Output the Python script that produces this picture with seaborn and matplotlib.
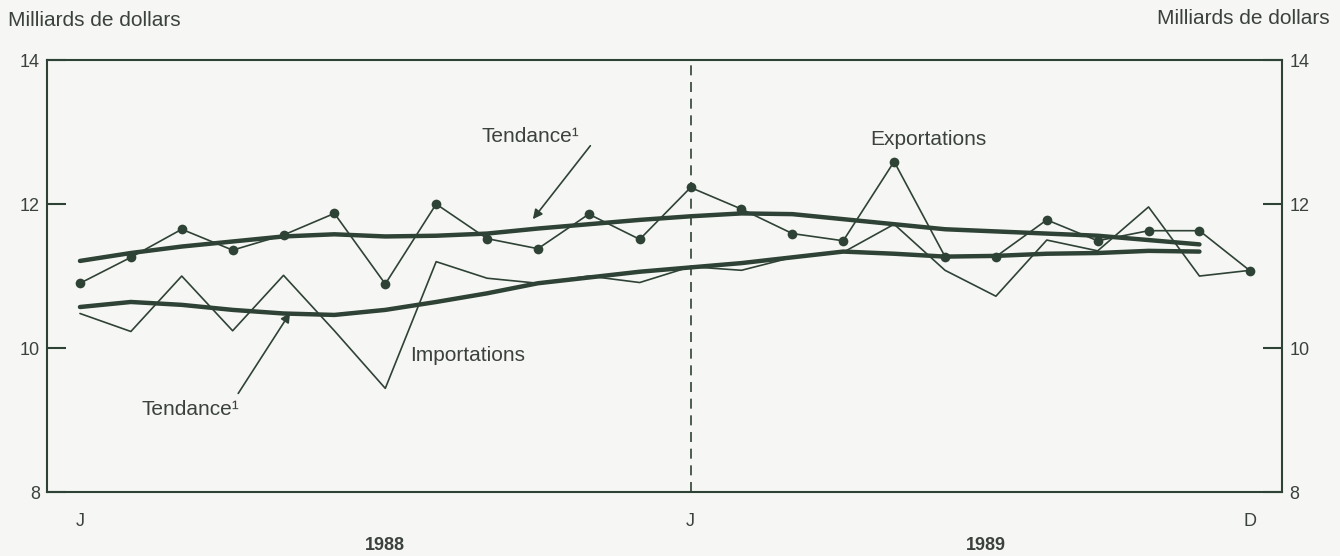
# Commerce extérieur : exportations et importations mensuelles (1988-1989)
# avec les courbes de tendance correspondantes.

import matplotlib
matplotlib.use("Agg")
import matplotlib.pyplot as plt
import pandas as pd
import seaborn as sns

# --- Données (milliards de dollars), janvier 1988 -> décembre 1989
mois = list(range(24))
exportations = [10.90, 11.26, 11.65, 11.36, 11.57, 11.87, 10.89, 12.00, 11.52, 11.38, 11.86, 11.51,
                12.23, 11.93, 11.59, 11.49, 12.59, 11.27, 11.27, 11.78, 11.49, 11.63, 11.63, 11.07]
importations = [10.48, 10.23, 11.00, 10.24, 11.01, 10.24, 9.44, 11.20, 10.97, 10.90, 11.00, 10.91,
                11.13, 11.08, 11.26, 11.33, 11.72, 11.08, 10.72, 11.50, 11.35, 11.96, 11.00, 11.08]
# tendances : janvier 1988 -> novembre 1989
mois_tendance = list(range(23))
tendance_exp = [11.21, 11.32, 11.41, 11.48, 11.55, 11.58, 11.55, 11.56, 11.59, 11.66, 11.72, 11.78,
                11.83, 11.87, 11.86, 11.79, 11.72, 11.65, 11.62, 11.59, 11.56, 11.50, 11.44]
tendance_imp = [10.57, 10.64, 10.60, 10.53, 10.48, 10.46, 10.53, 10.64, 10.76, 10.90, 10.98, 11.06,
                11.12, 11.18, 11.26, 11.34, 11.31, 11.27, 11.28, 11.31, 11.32, 11.35, 11.34]

etiquettes_mois = ["J"] + [""] * 11 + ["J"] + [""] * 10 + ["D"]

df = pd.DataFrame({"mois": mois, "exportations": exportations, "importations": importations})
df_tend = pd.DataFrame({"mois": mois_tendance, "exp": tendance_exp, "imp": tendance_imp})

# --- Style
sns.set_theme(style="white")
plt.rcParams["font.family"] = ["Liberation Sans", "DejaVu Sans"]

couleur = "#2f4236"
texte = "#3b413c"
fond = "#f6f7f4"

fig = plt.figure(figsize=(13.4, 5.56), dpi=100, facecolor=fond)
ax = fig.add_axes([0.035, 0.115, 0.922, 0.777])
ax.set_facecolor(fond)

# --- Séries
sns.lineplot(data=df_tend, x="mois", y="exp", ax=ax, color=couleur, lw=3.2)
sns.lineplot(data=df_tend, x="mois", y="imp", ax=ax, color=couleur, lw=3.2)
sns.lineplot(data=df, x="mois", y="importations", ax=ax, color=couleur, lw=1.2)
sns.lineplot(data=df, x="mois", y="exportations", ax=ax, color=couleur, lw=1.2,
             marker="o", markersize=7, markeredgewidth=0)

# Séparation entre les deux années
ax.axvline(12, color=couleur, lw=1.2, ls=(0, (6, 4)))

# --- Axes
ax.set_xlim(-0.65, 23.63)
ax.set_ylim(8, 14)
ax.set_xticks(mois)
ax.set_xticklabels(etiquettes_mois)
ax.set_yticks([8, 10, 12, 14])
ax.set_xlabel("")
ax.set_ylabel("")
for s in ax.spines.values():
    s.set_color(couleur)
    s.set_linewidth(1.5)
ax.tick_params(axis="x", direction="in", length=12, width=1.5, color=couleur,
               pad=15, labelsize=13, labelcolor=texte)
ax.tick_params(axis="y", direction="in", length=14, width=1.5, color=couleur,
               left=True, right=True, labelleft=True, labelright=True,
               labelsize=13, labelcolor=texte, pad=5)

# --- Textes
tr = ax.get_xaxis_transform()
ax.text(6.0, -0.123, "1988", transform=tr, ha="center", va="center",
        fontsize=13, fontweight="bold", color=texte)
ax.text(17.8, -0.123, "1989", transform=tr, ha="center", va="center",
        fontsize=13, fontweight="bold", color=texte)
fig.text(8 / 1340, 1 - 20 / 556, "Milliards de dollars", ha="left", va="center",
         fontsize=15, color=texte)
fig.text(1330 / 1340, 1 - 18 / 556, "Milliards de dollars", ha="right", va="center",
         fontsize=15, color=texte)

fleche = dict(arrowstyle="-|>", color=couleur, lw=1.2, mutation_scale=14, shrinkA=0, shrinkB=0)
ax.annotate("", xy=(8.9, 11.79), xytext=(10.03, 12.81), arrowprops=fleche)
ax.text(8.85, 12.94, "Tendance¹", ha="center", va="center", fontsize=15, color=texte)
ax.text(16.67, 12.90, "Exportations", ha="center", va="center", fontsize=15, color=texte)
ax.text(7.61, 9.90, "Importations", ha="center", va="center", fontsize=15, color=texte)
ax.annotate("", xy=(4.13, 10.49), xytext=(3.11, 9.37), arrowprops=fleche)
ax.text(2.16, 9.15, "Tendance¹", ha="center", va="center", fontsize=15, color=texte)

fig.savefig("out.png", dpi=100, facecolor=fond)
